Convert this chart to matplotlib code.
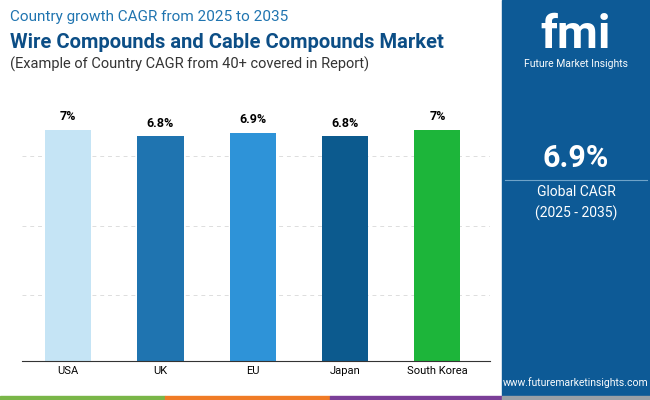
import matplotlib
matplotlib.use("Agg")
import matplotlib.pyplot as plt
from matplotlib.patches import Rectangle

countries = ["USA", "UK", "EU", "Japan", "South Korea"]
cagr = [7.0, 6.8, 6.9, 6.8, 7.0]
labels = ["7%", "6.8%", "6.9%", "6.8%", "7%"]
colors = ["#c5e4f5", "#1f74b0", "#2e93d8", "#0c5a8e", "#1db53a"]

W, H = 650, 400
fig = plt.figure(figsize=(6.5, 4), dpi=100)
fig.patch.set_facecolor("white")

fig.add_artist(Rectangle((502 / W, 0), 148 / W, 1, transform=fig.transFigure, color="#0d5a96", zorder=0))
for x0, x1, c in [(0, 165, "#7ab648"), (165, 330, "#f07b26"), (330, 502, "#7b3f98"), (502, 650, "#9aa0a6")]:
    fig.add_artist(Rectangle((x0 / W, 0), (x1 - x0) / W, 4 / H, transform=fig.transFigure, color=c))

ax = fig.add_axes([22 / W, 39 / H, 468 / W, 261 / H])
x = range(len(countries))
ax.bar(x, cagr, width=0.5, color=colors, zorder=2)
for i, (v, l) in enumerate(zip(cagr, labels)):
    ax.text(i, v + 0.2, l, ha="center", va="bottom", fontsize=9, fontweight="bold", fontfamily="Roboto")
ax.set_ylim(0, 7.9)
ax.set_xlim(-0.5, 4.57)
ax.set_xticks(list(x))
ax.set_xticklabels(countries, fontsize=8, fontfamily="Roboto")
ax.set_yticks([2, 4.1, 6.2])
ax.set_yticklabels([])
ax.tick_params(length=0)
ax.grid(axis="y", linestyle=(0, (4, 4)), color="#dddddd", linewidth=0.7, zorder=0)
for s in ["top", "right", "left"]:
    ax.spines[s].set_visible(False)
ax.spines["bottom"].set_color("#333333")

fig.text(10 / W, 1 - 17 / H, "Country growth CAGR from 2025 to 2035", fontsize=11, color="#1f74b0", fontfamily="Roboto", va="center")
fig.text(10 / W, 1 - 42 / H, "Wire Compounds and Cable Compounds Market", fontsize=14.5, fontweight="bold", color="#0c4e86", fontfamily="Roboto", va="center")
fig.text(10 / W, 1 - 64 / H, "(Example of Country CAGR from 40+ covered in Report)", fontsize=10.5, color="#333333", fontfamily="Roboto", va="center")

fig.text(576 / W, 1 - 35 / H, "fmi", fontsize=34, fontweight="bold", color="white", ha="center", va="center", fontfamily="Roboto")
fig.text(576 / W, 1 - 64 / H, "Future Market Insights", fontsize=7.5, color="white", ha="center", va="center", fontfamily="Roboto")
fig.text(576 / W, 1 - 158 / H, "6.9%", fontsize=22, fontweight="bold", color="white", ha="center", va="center", fontfamily="Roboto")
fig.add_artist(plt.Line2D([505 / W, 647 / W], [1 - 180 / H] * 2, color="#6fa3c9", linewidth=0.8, transform=fig.transFigure))
fig.text(576 / W, 1 - 192 / H, "Global CAGR", fontsize=10, color="white", ha="center", va="center", fontfamily="Roboto")
fig.text(576 / W, 1 - 213 / H, "(2025 - 2035)", fontsize=10, color="white", ha="center", va="center", fontfamily="Roboto")
fig.text(576 / W, 1 - 383 / H, "www.futuremarketinsights.com", fontsize=7.5, color="white", ha="center", va="center", fontfamily="Roboto")

fig.savefig("out.png", dpi=100)
